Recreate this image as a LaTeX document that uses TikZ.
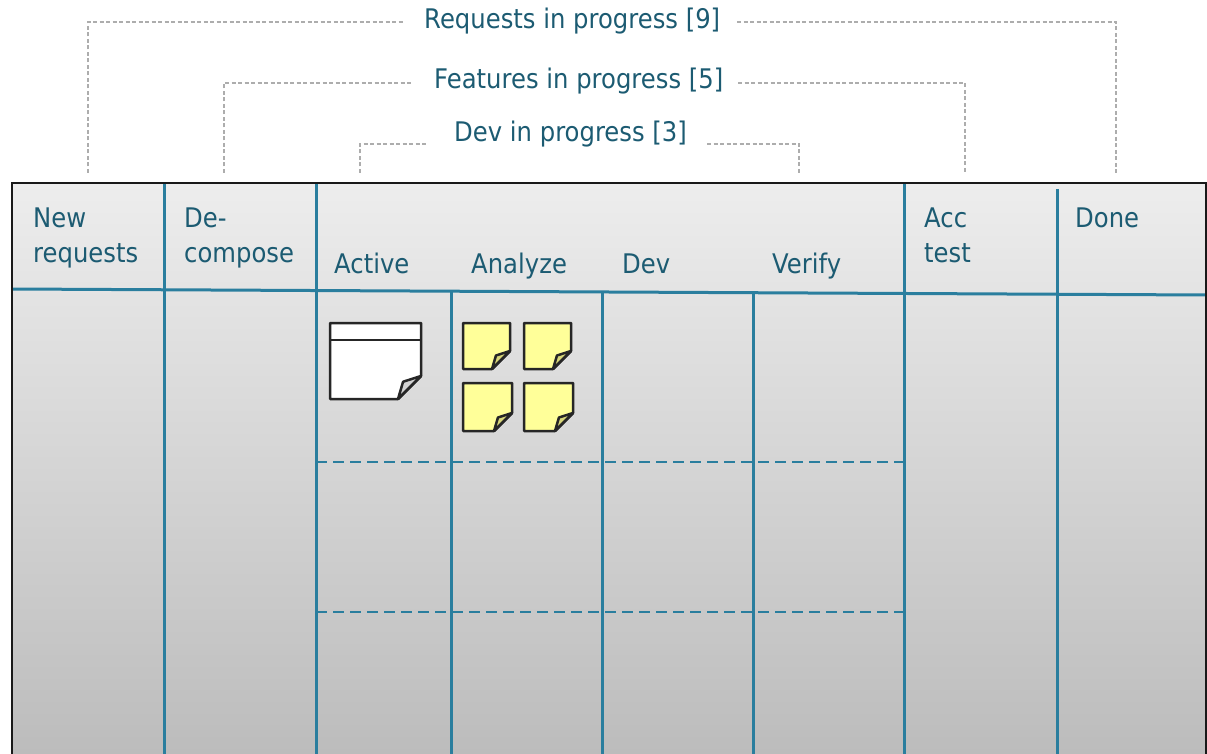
\documentclass[tikz,border=0pt]{standalone}
\usepackage{fontspec}
\setmainfont[FakeStretch=0.9]{DejaVu Sans}
\definecolor{tealline}{HTML}{2A7E9E}
\definecolor{txt}{HTML}{1C5B72}
\definecolor{grayd}{HTML}{ADADAD}
\definecolor{noteY}{HTML}{FFFF99}
\definecolor{flapY}{HTML}{D8D77A}
\definecolor{flapW}{HTML}{D2D2D2}
\definecolor{bgtop}{HTML}{EDEDED}
\definecolor{bgbot}{HTML}{BCBCBC}
\tikzset{
  lbl/.style={anchor=base west, inner sep=0pt, text=txt, font=\fontsize{27}{32}\selectfont},
  bracket/.style={draw=grayd, line width=2pt, dash pattern=on 4pt off 2.5pt},
  colline/.style={draw=tealline, line width=3pt},
  rowline/.style={draw=tealline, line width=2.5pt, dash pattern=on 11pt off 6pt},
  noteline/.style={draw=black!85, line width=2.5pt, line join=round},
}
\newcommand{\drawnote}[7]{%
  \draw[noteline, fill=#6] (#1,#2) -- (#1+#3,#2) -- (#1+#3,#2+#4-#5) -- (#1+#3-#5,#2+#4) -- (#1,#2+#4) -- cycle;
  \draw[noteline, fill=#7] (#1+#3-#5,#2+#4) -- (#1+#3-0.78*#5,#2+#4-0.75*#5) -- (#1+#3,#2+#4-#5) -- cycle;
}
\begin{document}
\begin{tikzpicture}[x=1pt, y=-1pt]
\useasboundingbox (0,0) rectangle (1207,754);
\clip (0,0) rectangle (1207,754);
% board
\shade[top color=bgtop, bottom color=bgbot] (12,183) rectangle (1206,754);
% brackets
\node[lbl] (treq) at (424,29) {Requests in progress [9]};
\node[lbl] (tfeat) at (434,89) {Features in progress [5]};
\node[lbl] (tdev) at (454,142) {Dev in progress [3]};
\coordinate (r1a) at (88,173);  \coordinate (r1b) at (403,22);
\coordinate (r1c) at (737,22);  \coordinate (r1d) at (1116,173);
\coordinate (r2a) at (224,173); \coordinate (r2b) at (412,83);
\coordinate (r2c) at (738,83);  \coordinate (r2d) at (965,173);
\coordinate (r3a) at (360,173); \coordinate (r3b) at (427,144);
\coordinate (r3c) at (707,144); \coordinate (r3d) at (799,173);
\draw[bracket] (r1a) |- (r1b);
\draw[bracket] (r1c) -| (r1d);
\draw[bracket] (r2a) |- (r2b);
\draw[bracket] (r2c) -| (r2d);
\draw[bracket] (r3a) |- (r3b);
\draw[bracket] (r3c) -| (r3d);
% header separator
\coordinate (hl) at (12,289); \coordinate (hr) at (1206,295);
\draw[colline] (hl) -- (hr);
% column lines
\coordinate (c1t) at (164,183); \coordinate (c1b) at (164,754);
\coordinate (c2t) at (316,183); \coordinate (c2b) at (316,754);
\coordinate (c3t) at (451,291); \coordinate (c3b) at (451,754);
\coordinate (c4t) at (602,292); \coordinate (c4b) at (602,754);
\coordinate (c5t) at (753,293); \coordinate (c5b) at (753,754);
\coordinate (c6t) at (904,183); \coordinate (c6b) at (904,754);
\coordinate (c7t) at (1057,189); \coordinate (c7b) at (1057,754);
\foreach \i in {1,...,7} { \draw[colline] (c\i t) -- (c\i b); }
% row lines
\coordinate (ra1) at (316,462); \coordinate (ra2) at (904,462);
\coordinate (rb1) at (316,612); \coordinate (rb2) at (904,612);
\draw[rowline] (ra1) -- (ra2);
\draw[rowline] (rb1) -- (rb2);
% outer border
\draw[black!90, line width=2.5pt] (12,760) -- (12,183) -- (1206,183) -- (1206,760);
% header labels
\node[lbl] (hnew1) at (33,227) {New};
\node[lbl] (hnew2) at (33,262) {requests};
\node[lbl] (hdec1) at (184,227) {De-};
\node[lbl] (hdec2) at (184,262) {compose};
\node[lbl] (hact) at (334,273) {Active};
\node[lbl] (hana) at (471,273) {Analyze};
\node[lbl] (hdev) at (622,273) {Dev};
\node[lbl] (hver) at (772,273) {Verify};
\node[lbl] (hacc1) at (924,227) {Acc};
\node[lbl] (hacc2) at (924,262) {test};
\node[lbl] (hdone) at (1075,227) {Done};
% cards
\drawnote{330}{323}{91}{76}{23}{white}{flapW}
\draw[noteline] (330,340) -- (421,340);
\drawnote{463}{323}{47}{46}{18}{noteY}{flapY}
\drawnote{524}{323}{47}{46}{18}{noteY}{flapY}
\drawnote{463}{383}{49}{48}{18}{noteY}{flapY}
\drawnote{524}{383}{49}{48}{18}{noteY}{flapY}
\end{tikzpicture}
\end{document}
